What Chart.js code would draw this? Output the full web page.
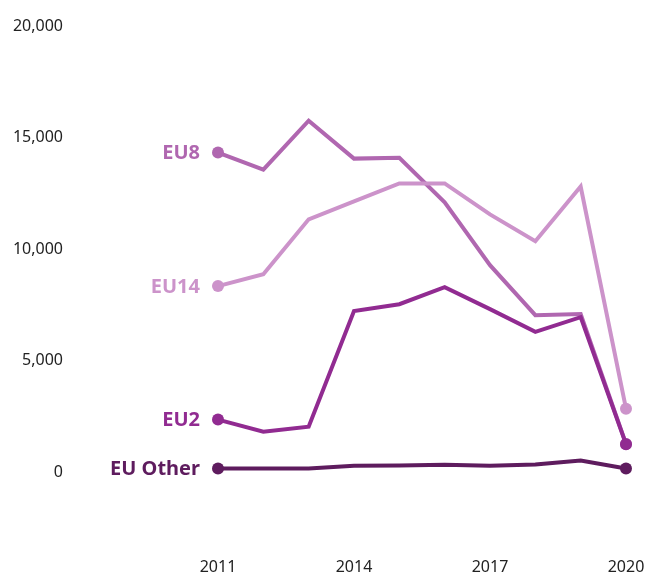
<!DOCTYPE html>
<html lang="en">
<head>
    <meta charset="UTF-8"/>
    <title>EU series</title>
    <script src="https://cdn.jsdelivr.net/npm/chart.js"></script>
    <style>
        html, body {
            margin: 0;
            padding: 0;
            background-color: #fff;
        }

        .chart-container {
            position: relative;
            width: 647px;
            height: 577px;
        }
    </style>
</head>
<body>
<div class="chart-container">
    <canvas id="lineChart"></canvas>
</div>

<script>
    const years = ['2011', '2012', '2013', '2014', '2015', '2016', '2017', '2018', '2019', '2020'];

    const eu8 = [14330, 13570, 15760, 14060, 14100, 12100, 9290, 7050, 7100, 1280];
    const eu14 = [8350, 8880, 11340, 12140, 12950, 12950, 11560, 10360, 12810, 2860];
    const eu2 = [2370, 1830, 2050, 7230, 7540, 8300, 7320, 6300, 6960, 1270];
    const euOther = [180, 180, 180, 300, 310, 350, 300, 360, 540, 180];

    const yTicks = [0, 5000, 10000, 15000, 20000];

    const endDots = years.map((y, i) => (i === 0 || i === years.length - 1) ? 6 : 0);

    function series(label, data, color) {
        return {
            label: label,
            data: data,
            borderColor: color,
            backgroundColor: color,
            borderWidth: 4,
            pointRadius: endDots,
            pointBorderWidth: 0,
            tension: 0,
            fill: false
        };
    }

    // series name written left of the first point
    const seriesLabels = {
        id: 'seriesLabels',
        afterDatasetsDraw(chart) {
            const c = chart.ctx;
            c.save();
            c.font = 'bold 20px "Noto Sans", sans-serif';
            c.textAlign = 'right';
            c.textBaseline = 'middle';
            chart.data.datasets.forEach((ds, i) => {
                const pt = chart.getDatasetMeta(i).data[0];
                c.fillStyle = ds.borderColor;
                c.fillText(ds.label, pt.x - 18, pt.y + 1);
            });
            c.restore();
        }
    };

    const chart = new Chart(document.getElementById('lineChart'), {
        type: 'line',
        data: {
            labels: years,
            datasets: [
                series('EU Other', euOther, '#5e1c5e'),
                series('EU2', eu2, '#912b91'),
                series('EU14', eu14, '#cc93ca'),
                series('EU8', eu8, '#b067b0')
            ]
        },
        options: {
            responsive: true,
            maintainAspectRatio: false,
            animation: false,
            events: [],
            layout: {
                padding: {top: 26, right: 21, bottom: 0, left: 0}
            },
            scales: {
                x: {
                    offset: false,
                    afterFit: axis => {
                        axis.height = 27;
                        axis.paddingLeft = 0;
                        axis.paddingRight = 0;
                    },
                    grid: {display: false, drawTicks: false},
                    border: {display: false},
                    ticks: {
                        autoSkip: false,
                        maxRotation: 0,
                        padding: 8,
                        color: '#222',
                        font: {size: 16, family: '"Noto Sans", sans-serif'},
                        callback: (v, i) => i % 3 === 0 ? years[i] : ''
                    }
                },
                y: {
                    min: -3470,
                    max: 20000,
                    afterBuildTicks: axis => {
                        axis.ticks = yTicks.map(v => ({value: v}));
                    },
                    afterFit: axis => {
                        axis.width = 218;
                        axis.paddingTop = 0;
                        axis.paddingBottom = 0;
                    },
                    grid: {display: false, drawTicks: false},
                    border: {display: false},
                    ticks: {
                        padding: 155,
                        color: '#222',
                        font: {size: 16, family: '"Noto Sans", sans-serif'},
                        callback: v => v.toLocaleString('en-US')
                    }
                }
            },
            plugins: {
                legend: {display: false},
                tooltip: {enabled: false}
            }
        },
        plugins: [seriesLabels]
    });
</script>
</body>
</html>
